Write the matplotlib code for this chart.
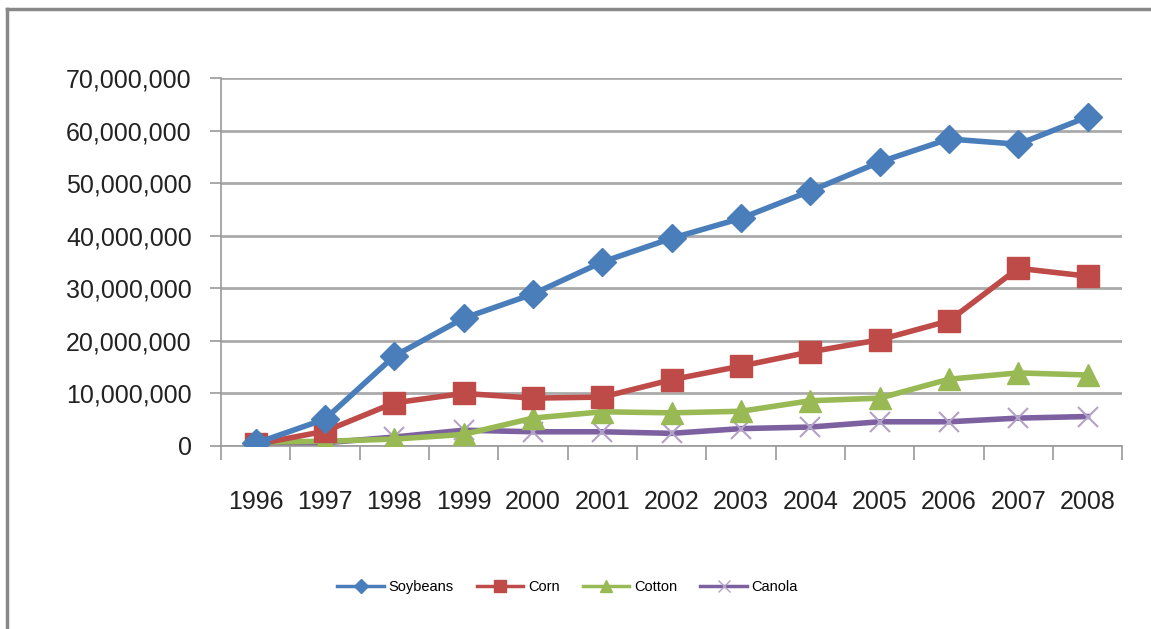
import numpy as np
import matplotlib
matplotlib.use('Agg')
import matplotlib.pyplot as plt
from matplotlib.ticker import FuncFormatter
from matplotlib.lines import Line2D

plt.rcParams['font.family'] = ['Liberation Sans', 'DejaVu Sans']

# donnees
years = ['1996', '1997', '1998', '1999', '2000', '2001', '2002',
         '2003', '2004', '2005', '2006', '2007', '2008']
soybeans = [500000, 5100000, 17100000, 24300000, 28900000, 35000000, 39500000,
            43300000, 48500000, 54000000, 58400000, 57400000, 62600000]
corn = [300000, 2800000, 8200000, 10000000, 9100000, 9300000, 12600000,
        15200000, 17900000, 20200000, 23800000, 33800000, 32300000]
cotton = [700000, 900000, 1300000, 2200000, 5300000, 6500000, 6300000,
          6600000, 8600000, 9100000, 12700000, 13900000, 13500000]
canola = [100000, 600000, 1700000, 3000000, 2700000, 2700000, 2400000,
          3300000, 3600000, 4600000, 4600000, 5300000, 5600000]

fig = plt.figure(figsize=(11.51, 6.29), dpi=100)
ax = fig.add_axes([0.192, 0.291, 0.783, 0.585])

x = np.arange(len(years))
ax.plot(x, soybeans, color='#4a7ebb', lw=4, marker='D', ms=14, label='Soybeans', zorder=5)
ax.plot(x, corn, color='#be4b48', lw=4, marker='s', ms=16, label='Corn', zorder=4)
ax.plot(x, cotton, color='#98b954', lw=4, marker='^', ms=16, label='Cotton', zorder=3)
ax.plot(x, canola, color='#7d60a0', lw=4, marker='x', ms=15, mew=1.5,
        mec='#b3a2c7', label='Canola', zorder=2)

ax.set_xlim(-0.5, len(years) - 0.5)
ax.set_ylim(0, 70000000)
ax.set_yticks(np.arange(0, 70000001, 10000000))
ax.yaxis.set_major_formatter(FuncFormatter(lambda v, p: '{:,.0f}'.format(v)))
ax.set_xticks(x)
ax.set_xticklabels(years)
ax.set_xticks(np.arange(-0.5, len(years)), minor=True)
ax.tick_params(axis='x', which='major', length=0, pad=32, labelsize=18, colors='#222222')
ax.tick_params(axis='x', which='minor', length=10, color='#999999', width=1.2)
ax.tick_params(axis='y', length=8, width=1.2, pad=13, labelsize=18,
               colors='#222222')
ax.tick_params(axis='y', color='#999999')

ax.grid(axis='y', color='#aaaaaa', lw=2)
ax.set_axisbelow(True)
for s in ['top', 'right']:
    ax.spines[s].set_visible(False)
ax.spines['left'].set_color('#999999')
ax.spines['bottom'].set_color('#999999')
ax.spines['left'].set_linewidth(1.2)
ax.spines['bottom'].set_linewidth(1.2)

handles = [
    Line2D([], [], color='#4a7ebb', lw=2.5, marker='D', ms=7),
    Line2D([], [], color='#be4b48', lw=2.5, marker='s', ms=9),
    Line2D([], [], color='#98b954', lw=2.5, marker='^', ms=9),
    Line2D([], [], color='#7d60a0', lw=2.5, marker='x', ms=9, mec='#b3a2c7', mew=1),
]
fig.legend(handles, ['Soybeans', 'Corn', 'Cotton', 'Canola'], loc='center',
           bbox_to_anchor=(0.493, 0.066), ncol=4, frameon=False, fontsize=10.5,
           handlelength=3.2, handletextpad=0.3, columnspacing=1.6)

# cadre exterieur (gauche et haut)
fig.add_artist(Line2D([0.0065, 0.0065], [0, 0.986], color='#888888', lw=2.5))
fig.add_artist(Line2D([0.0065, 1.0], [0.986, 0.986], color='#888888', lw=2.5))

fig.savefig('out.png', dpi=100)
